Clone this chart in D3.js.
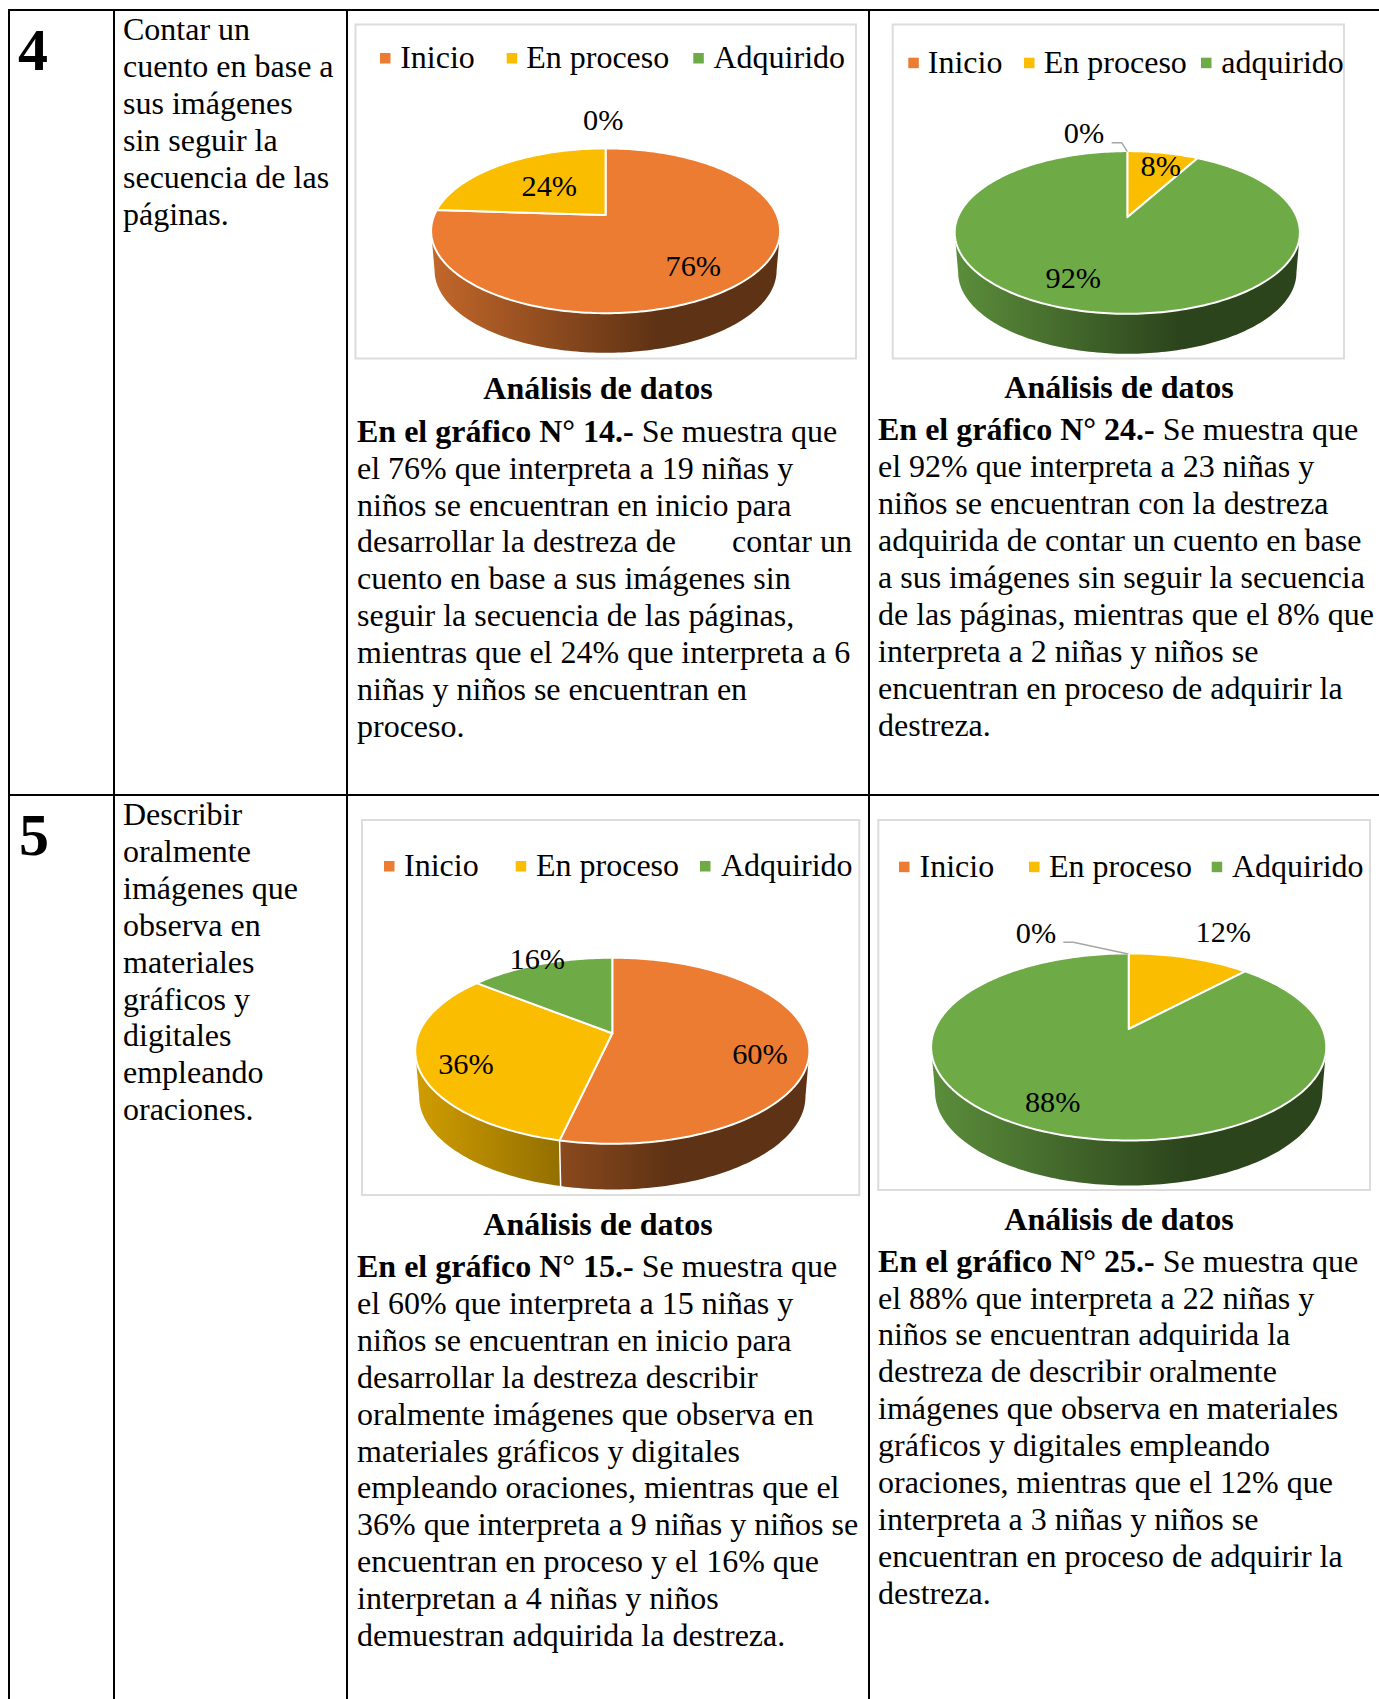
<!DOCTYPE html>
<html>
<head>
<meta charset="utf-8">
<script src="https://cdn.jsdelivr.net/npm/d3@7"></script>
<style>
body { margin: 0; background: #fff; }
text { font-family: "Liberation Serif", serif; font-size: 32px; fill: #000; }
.bold { font-weight: bold; }
.pct { font-size: 30.3px; }
.rule { stroke: #000; stroke-width: 2; }
.frame { fill: #fff; stroke: #dcdcdc; stroke-width: 2; }
</style>
</head>
<body>
<div id="chart"></div>
<script>
const width = 1379, height = 1699;

const categories = ['Inicio', 'En proceso', 'Adquirido'];
const categories_24 = ['Inicio', 'En proceso', 'adquirido'];
const colors = ['#EB7C32', '#FBBD00', '#6EAB47'];

// ninas y ninos por nivel, de 25 evaluados
const total_children = 25;
const values_14 = [19, 6, 0];
const values_24 = [0, 2, 23];
const values_15 = [15, 9, 4];
const values_25 = [0, 3, 22];

const row_numbers = ['4', '5'];
const skill_4 = ['Contar un', 'cuento en base a', 'sus imágenes', 'sin seguir la', 'secuencia de las', 'páginas.'];
const skill_5 = ['Describir', 'oralmente', 'imágenes que', 'observa en', 'materiales', 'gráficos y', 'digitales', 'empleando', 'oraciones.'];

const heading = 'Análisis de datos';
const lead_14 = 'En el gráfico N° 14.-', lead_24 = 'En el gráfico N° 24.-';
const lead_15 = 'En el gráfico N° 15.-', lead_25 = 'En el gráfico N° 25.-';
const text_14 = [' Se muestra que', 'el 76% que interpreta a 19 niñas y', 'niños se encuentran en inicio para',
    'desarrollar la destreza de \u00a0\u00a0\u00a0\u00a0\u00a0\u00a0contar un', 'cuento en base a sus imágenes sin',
    'seguir la secuencia de las páginas,', 'mientras que el 24% que interpreta a 6', 'niñas y niños se encuentran en', 'proceso.'];
const text_24 = [' Se muestra que', 'el 92% que interpreta a 23 niñas y', 'niños se encuentran con la destreza',
    'adquirida de contar un cuento en base', 'a sus imágenes sin seguir la secuencia',
    'de las páginas, mientras que el 8% que', 'interpreta a 2 niñas y niños se', 'encuentran en proceso de adquirir la', 'destreza.'];
const text_15 = [' Se muestra que', 'el 60% que interpreta a 15 niñas y', 'niños se encuentran en inicio para',
    'desarrollar la destreza describir', 'oralmente imágenes que observa en', 'materiales gráficos y digitales',
    'empleando oraciones, mientras que el', '36% que interpreta a 9 niñas y niños se', 'encuentran en proceso y el 16% que',
    'interpretan a 4 niñas y niños', 'demuestran adquirida la destreza.'];
const text_25 = [' Se muestra que', 'el 88% que interpreta a 22 niñas y', 'niños se encuentran adquirida la',
    'destreza de describir oralmente', 'imágenes que observa en materiales', 'gráficos y digitales empleando',
    'oraciones, mientras que el 12% que', 'interpreta a 3 niñas y niños se', 'encuentran en proceso de adquirir la', 'destreza.'];

const line_height = 36.9;
const color = d3.scaleOrdinal().domain(d3.range(3)).range(colors);

const svg = d3.select('#chart').append('svg').attr('width', width).attr('height', height);
const defs = svg.append('defs');

function drawTable() {
    [9, 114, 347, 869].forEach(x => {
        svg.append('line').attr('class', 'rule').attr('x1', x).attr('x2', x).attr('y1', 9).attr('y2', height);
    });
    [10, 795].forEach(y => {
        svg.append('line').attr('class', 'rule').attr('x1', 8).attr('x2', width).attr('y1', y).attr('y2', y);
    });
}

function drawRowLabel(number, numX, numY, lines, firstY) {
    svg.append('text').attr('class', 'bold').attr('x', numX).attr('y', numY)
        .style('font-size', '60px').text(number);
    svg.append('g').selectAll('text').data(lines).enter().append('text')
        .attr('x', 123)
        .attr('y', (d, i) => firstY + i * line_height)
        .text(d => d);
}

function drawAnalysis(lead, lines, x, headX, headY, firstY) {
    svg.append('text').attr('class', 'bold').attr('x', headX).attr('y', headY)
        .attr('text-anchor', 'middle').text(heading);
    const group = svg.append('g');
    group.selectAll('text').data(lines).enter().append('text')
        .attr('xml:space', 'preserve')
        .attr('x', x)
        .attr('y', (d, i) => firstY + i * line_height)
        .each(function(d, i) {
            const t = d3.select(this);
            if (i == 0) {
                t.append('tspan').attr('class', 'bold').text(lead);
                t.append('tspan').text(d);
            } else {
                t.text(d);
            }
        });
}

// pie seen in perspective: the centre of the circle lands above the centre of the ellipse
function makeProjection(p) {
    const up = p.apexY - p.topY, down = p.bottomY - p.apexY;
    const k = (down - up) / (down + up);
    const a = up * (1 + k);
    const b = p.rx * Math.sqrt(1 - k * k);
    const point = function(angle) {
        const u = Math.sin(angle), v = -Math.cos(angle);
        const w = 1 - k * v;
        return [p.cx + b * u / w, p.apexY + a * v / w];
    };
    return { k: k, point: point };
}

function arcAngles(start, end) {
    const n = Math.max(2, Math.ceil((end - start) / 0.02));
    return d3.range(n + 1).map(i => start + (end - start) * i / n);
}

function drawPie(id, p, values, names) {
    const g = svg.append('g');
    g.append('rect').attr('class', 'frame')
        .attr('x', p.frame[0]).attr('y', p.frame[1])
        .attr('width', p.frame[2] - p.frame[0]).attr('height', p.frame[3] - p.frame[1]);

    const proj = makeProjection(p);
    const arcs = d3.pie().sort(null).startAngle(0).endAngle(2 * Math.PI)(values);
    const line = d3.line();
    const bottom = angle => {
        const q = proj.point(angle);
        return [p.cx + (q[0] - p.cx) * 0.98, q[1] + p.depth];
    };

    // wall gradient
    values.forEach((v, i) => {
        const c = d3.rgb(color(i));
        const shade = f => d3.rgb(c.r * f, c.g * f, c.b * f).formatHex();
        const grad = defs.append('linearGradient').attr('id', id + '-wall-' + i)
            .attr('gradientUnits', 'userSpaceOnUse')
            .attr('x1', p.cx - p.rx).attr('x2', p.cx + p.rx).attr('y1', 0).attr('y2', 0);
        grad.append('stop').attr('offset', 0).attr('stop-color', shade(0.83));
        grad.append('stop').attr('offset', 0.65).attr('stop-color', shade(0.4));
        grad.append('stop').attr('offset', 1).attr('stop-color', shade(0.4));
    });

    const frontStart = Math.acos(-proj.k), frontEnd = 2 * Math.PI - frontStart;
    arcs.forEach(d => {
        const s = Math.max(d.startAngle, frontStart), e = Math.min(d.endAngle, frontEnd);
        if (e <= s) return;
        const angles = arcAngles(s, e);
        const pts = angles.map(proj.point).concat(angles.slice().reverse().map(bottom));
        g.append('path').attr('d', line(pts) + 'Z').attr('fill', 'url(#' + id + '-wall-' + d.index + ')');
    });
    // white seam on the wall between two slices
    arcs.forEach(d => {
        if (d.value > 0 && d.endAngle > frontStart && d.endAngle < frontEnd) {
            g.append('path').attr('d', line([proj.point(d.endAngle), bottom(d.endAngle)]))
                .attr('stroke', '#fff').attr('stroke-width', 1.5).attr('fill', 'none');
        }
    });

    arcs.filter(d => d.value > 0).forEach(d => {
        const pts = [[p.cx, p.apexY]].concat(arcAngles(d.startAngle, d.endAngle).map(proj.point));
        g.append('path').attr('d', line(pts) + 'Z').attr('fill', color(d.index))
            .attr('stroke', '#fff').attr('stroke-width', 2).attr('stroke-linejoin', 'round');
    });

    if (p.leader) {
        g.append('path').attr('d', line(p.leader)).attr('fill', 'none')
            .attr('stroke', '#a6a6a6').attr('stroke-width', 1.5);
    }

    g.selectAll('.pct').data(values).enter().append('text').attr('class', 'pct')
        .attr('text-anchor', 'middle')
        .attr('x', (d, i) => p.labels[i][0])
        .attr('y', (d, i) => p.labels[i][1])
        .text(d => d3.format('.0%')(d / total_children));

    g.selectAll('.key').data(names).enter().append('rect').attr('class', 'key')
        .attr('x', (d, i) => p.legendX[i])
        .attr('y', p.legendY - 15)
        .attr('width', 10.5).attr('height', 10.5)
        .attr('fill', (d, i) => color(i));
    g.selectAll('.name').data(names).enter().append('text').attr('class', 'name')
        .attr('x', (d, i) => p.legendTextX[i])
        .attr('y', p.legendY)
        .text(d => d);
}

const pie_14 = { frame: [355.5, 24.5, 856, 358.5], cx: 605.6, apexY: 215, topY: 148.4, bottomY: 313.2, rx: 174.5, depth: 39.6,
    labels: [[693.3, 275.7], [549.3, 195.7], [603.3, 130]],
    legendX: [380, 506.7, 693.3], legendTextX: [400.2, 526.2, 713.5], legendY: 68 };
const pie_24 = { frame: [892.7, 24.5, 1344, 358.5], cx: 1127.3, apexY: 217.3, topY: 151.1, bottomY: 313.8, rx: 172.6, depth: 40,
    labels: [[1084, 143.3], [1160.7, 175.7], [1073.3, 288.3]],
    leader: [[1111.7, 142.7], [1121.7, 142.7], [1127.3, 151.7]],
    legendX: [908.3, 1024, 1201], legendTextX: [927.8, 1043.8, 1221.2], legendY: 72.7 };
const pie_15 = { frame: [362, 820, 859.3, 1195], cx: 612.3, apexY: 1033.3, topY: 957.7, bottomY: 1143.8, rx: 197.1, depth: 45.7,
    labels: [[760, 1064], [466, 1074], [537.3, 969]],
    legendX: [384, 515.7, 700], legendTextX: [404, 536, 721], legendY: 876 };
const pie_25 = { frame: [878.3, 820, 1370, 1190], cx: 1128.7, apexY: 1029, topY: 953.4, bottomY: 1140.5, rx: 197.6, depth: 45,
    labels: [[1036, 942.7], [1223.3, 942], [1052.7, 1111.7]],
    leader: [[1063.3, 942.3], [1073.3, 942.3], [1128.3, 954]],
    legendX: [899, 1029, 1211.7], legendTextX: [919.5, 1049, 1232], legendY: 876.7 };

drawTable();
drawRowLabel(row_numbers[0], 18, 70, skill_4, 40);
drawRowLabel(row_numbers[1], 19, 855, skill_5, 825);
drawPie('p14', pie_14, values_14, categories);
drawPie('p24', pie_24, values_24, categories_24);
drawPie('p15', pie_15, values_15, categories);
drawPie('p25', pie_25, values_25, categories);
drawAnalysis(lead_14, text_14, 357, 598, 399, 441.7);
drawAnalysis(lead_24, text_24, 878, 1119, 398, 440.3);
drawAnalysis(lead_15, text_15, 357, 598, 1234.7, 1277);
drawAnalysis(lead_25, text_25, 878, 1119, 1229.6, 1271.6);
</script>
</body>
</html>
